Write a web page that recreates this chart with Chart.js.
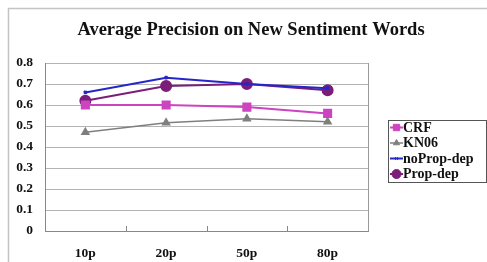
<!DOCTYPE html>
<html><head><meta charset="utf-8">
<script src="https://cdn.jsdelivr.net/npm/chart.js@4/dist/chart.umd.min.js"></script>
<style>html,body{margin:0;padding:0;background:#fff;}#wrap{width:487px;height:262px;position:relative;}</style>
</head><body><div id="wrap"><canvas id="c" width="487" height="262"></canvas></div>
<script>
const titleText = "Average Precision on New Sentiment Words";
const categories = ["10p", "20p", "50p", "80p"];
const crf = [0.60, 0.60, 0.59, 0.56];
const kn06 = [0.47, 0.515, 0.535, 0.52];
const noPropDep = [0.66, 0.73, 0.70, 0.68];
const propDep = [0.62, 0.69, 0.70, 0.67];
const yTicks = [0, 0.1, 0.2, 0.3, 0.4, 0.5, 0.6, 0.7, 0.8];

const serifBold = {family: "'Liberation Serif','Times New Roman',serif", weight: 'bold', size: 13.5};

const framePlugin = {
  id: 'frame',
  beforeDraw(chart) {
    const ctx = chart.ctx;
    ctx.save();
    ctx.fillStyle = '#fff';
    ctx.fillRect(0, 0, chart.width, chart.height);
    ctx.strokeStyle = '#c4c4c4';
    ctx.lineWidth = 1.5;
    ctx.beginPath();
    ctx.moveTo(8.5, 262); ctx.lineTo(8.5, 8.5); ctx.lineTo(487, 8.5);
    ctx.stroke();
    ctx.restore();
  },
  afterDraw(chart) {
    const ctx = chart.ctx;
    const a = chart.chartArea;
    ctx.save();
    // title
    ctx.fillStyle = '#111';
    ctx.font = "bold 18.5px 'Liberation Serif','Times New Roman',serif";
    ctx.textAlign = 'center';
    ctx.textBaseline = 'middle';
    ctx.fillText(titleText, 251, 30);
    // right border
    ctx.strokeStyle = '#9a9a9a';
    ctx.lineWidth = 1;
    ctx.beginPath();
    ctx.moveTo(Math.round(a.right) + 0.5, a.top); ctx.lineTo(Math.round(a.right) + 0.5, a.bottom);
    ctx.stroke();
    // category boundary tick marks
    const xs = chart.scales.x;
    ctx.strokeStyle = '#888';
    for (let i = 1; i < categories.length; i++) {
      const x = Math.round((xs.getPixelForValue(i - 1) + xs.getPixelForValue(i)) / 2) + 0.5;
      ctx.beginPath(); ctx.moveTo(x, a.bottom - 5); ctx.lineTo(x, a.bottom); ctx.stroke();
    }
    // legend
    const lx = 388, ly = 120, lw = 98, lh = 62;
    ctx.strokeStyle = '#555';
    ctx.lineWidth = 1;
    ctx.strokeRect(lx + 0.5, ly + 0.5, lw, lh);
    ctx.font = "bold 14px 'Liberation Serif','Times New Roman',serif";
    ctx.textAlign = 'left';
    chart.data.datasets.forEach((ds, i) => {
      const y = ly + 7.5 + i * 15.5;
      ctx.strokeStyle = ds.borderColor;
      ctx.fillStyle = ds.pointBackgroundColor;
      ctx.lineWidth = ds.borderWidth;
      ctx.beginPath(); ctx.moveTo(lx + 2, y); ctx.lineTo(lx + 15, y); ctx.stroke();
      ctx.lineWidth = 1;
      Chart.helpers.drawPoint(ctx, {pointStyle: ds.pointStyle, radius: Math.max(ds.pointRadius - 0.5, 2), borderWidth: 1}, lx + 8.5, y);
      ctx.fillStyle = '#111';
      ctx.fillText(ds.label, lx + 15, y + 0.5);
    });
    ctx.restore();
  }
};

const mk = (label, data, color, style, r, w) => ({
  label, data, borderColor: color, backgroundColor: color,
  pointBackgroundColor: color, pointBorderColor: color,
  pointStyle: style, pointRadius: r, pointHoverRadius: r, borderWidth: w, tension: 0
});

new Chart(document.getElementById('c'), {
  type: 'line',
  data: {
    labels: categories,
    datasets: [
      mk('CRF', crf, '#cc44c0', 'rect', 5, 2),
      mk('KN06', kn06, '#7f7f7f', 'triangle', 4, 1.5),
      mk('noProp-dep', noPropDep, '#2626c8', 'crossRot', 2, 2),
      mk('Prop-dep', propDep, '#7a1e7a', 'circle', 5, 2)
    ]
  },
  options: {
    responsive: false,
    animation: false,
    events: [],
    layout: {padding: {left: 0, top: 63, right: 119, bottom: 0}},
    plugins: {legend: {display: false}, title: {display: false}, tooltip: {enabled: false}},
    scales: {
      x: {
        offset: true,
        grid: {display: false, drawTicks: false},
        border: {display: true, color: '#888', width: 1},
        ticks: {font: serifBold, color: '#111', padding: 14},
        afterFit(s) { s.height = 31; }
      },
      y: {
        min: 0, max: 0.8,
        afterBuildTicks(s) { s.ticks = yTicks.map(v => ({value: v})); },
        grid: {color: '#b4b4b4', drawTicks: false, lineWidth: 1},
        border: {display: true, color: '#888', width: 1},
        ticks: {font: serifBold, color: '#111', padding: 12, callback: v => String(v)},
        afterFit(s) { s.width = 45; }
      }
    }
  },
  plugins: [framePlugin]
});
</script>
</body></html>
